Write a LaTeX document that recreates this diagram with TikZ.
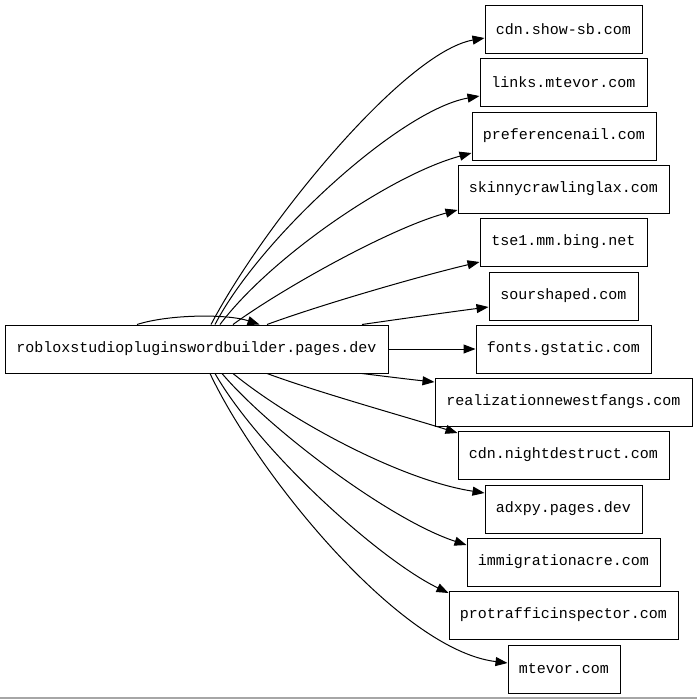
\documentclass[tikz,border=0pt]{standalone}
\usepackage{fontspec}
\newfontfamily\monof{Liberation Mono}
\usetikzlibrary{arrows.meta}
\tikzset{
  box/.style={draw, line width=1pt, inner sep=0pt, minimum height=48pt, font=\monof\fontsize{15}{18}\selectfont},
  edge/.style={line width=1pt, -{Triangle[length=12pt,width=9pt]}}
}
\begin{document}
\begin{tikzpicture}[x=1pt,y=-1pt]
\useasboundingbox (0,0) rectangle (697,699);
\draw[line width=1.5pt, gray!70] (0,698) -- (697,698);
\node[box, minimum width=383pt] (s) at (196.5,349) {robloxstudiopluginswordbuilder.pages.dev};
\node[box, minimum width=157pt] (t1) at (563.5,29) {cdn.show-sb.com};
\node[box, minimum width=167pt] (t2) at (563.5,82) {links.mtevor.com};
\node[box, minimum width=184pt] (t3) at (564,136) {preferencenail.com};
\node[box, minimum width=211pt] (t4) at (563.5,189) {skinnycrawlinglax.com};
\node[box, minimum width=167pt] (t5) at (563.5,242) {tse1.mm.bing.net};
\node[box, minimum width=149pt] (t6) at (563.5,296) {sourshaped.com};
\node[box, minimum width=175pt] (t7) at (563.5,349) {fonts.gstatic.com};
\node[box, minimum width=257pt] (t8) at (563.5,402) {realizationnewestfangs.com};
\node[box, minimum width=211pt] (t9) at (563.5,455) {cdn.nightdestruct.com};
\node[box, minimum width=157pt] (t10) at (563.5,509) {adxpy.pages.dev};
\node[box, minimum width=193pt] (t11) at (563.5,562) {immigrationacre.com};
\node[box, minimum width=229pt] (t12) at (563.5,615) {protrafficinspector.com};
\node[box, minimum width=112pt] (t13) at (564,669) {mtevor.com};
% self loop
\draw[edge] ([xshift=-59.5pt]s.north) .. controls (170,314) and (228,314) .. ([xshift=63pt]s.north);
% upper edges
\draw[edge] ([xshift=14.5pt]s.north) .. controls (265,222) and (405,52) .. ([yshift=-9pt]t1.west);
\draw[edge] ([xshift=18.5pt]s.north) .. controls (260,238) and (400,110) .. ([yshift=-14pt]t2.west);
\draw[edge] ([xshift=23.5pt]s.north) .. controls (270,258) and (390,175) .. ([yshift=-17pt]t3.west);
\draw[edge] ([xshift=36.5pt]s.north) .. controls (280,290) and (390,228) .. ([yshift=-21pt]t4.west);
\draw[edge] ([xshift=70.5pt]s.north) .. controls (320,305) and (420,276) .. ([yshift=-20pt]t5.west);
\draw[edge] ([xshift=165.5pt]s.north) .. controls (400,319) and (450,312) .. ([yshift=-11pt]t6.west);
\draw[edge] (s.east) -- (t7.west);
% lower edges
\draw[edge] ([xshift=165.5pt]s.south) .. controls (390,377) and (415,380) .. ([yshift=20pt]t8.west);
\draw[edge] ([xshift=70.5pt]s.south) .. controls (320,393) and (410,418) .. ([yshift=22pt]t9.west);
\draw[edge] ([xshift=36.5pt]s.south) .. controls (290,420) and (400,480) .. ([yshift=16pt]t10.west);
\draw[edge] ([xshift=25.5pt]s.south) .. controls (270,430) and (390,520) .. ([yshift=17pt]t11.west);
\draw[edge] ([xshift=18.5pt]s.south) .. controls (260,452) and (380,560) .. ([yshift=22pt]t12.west);
\draw[edge] ([xshift=13.5pt]s.south) .. controls (258,475) and (400,650) .. ([yshift=6pt]t13.west);
\end{tikzpicture}
\end{document}
